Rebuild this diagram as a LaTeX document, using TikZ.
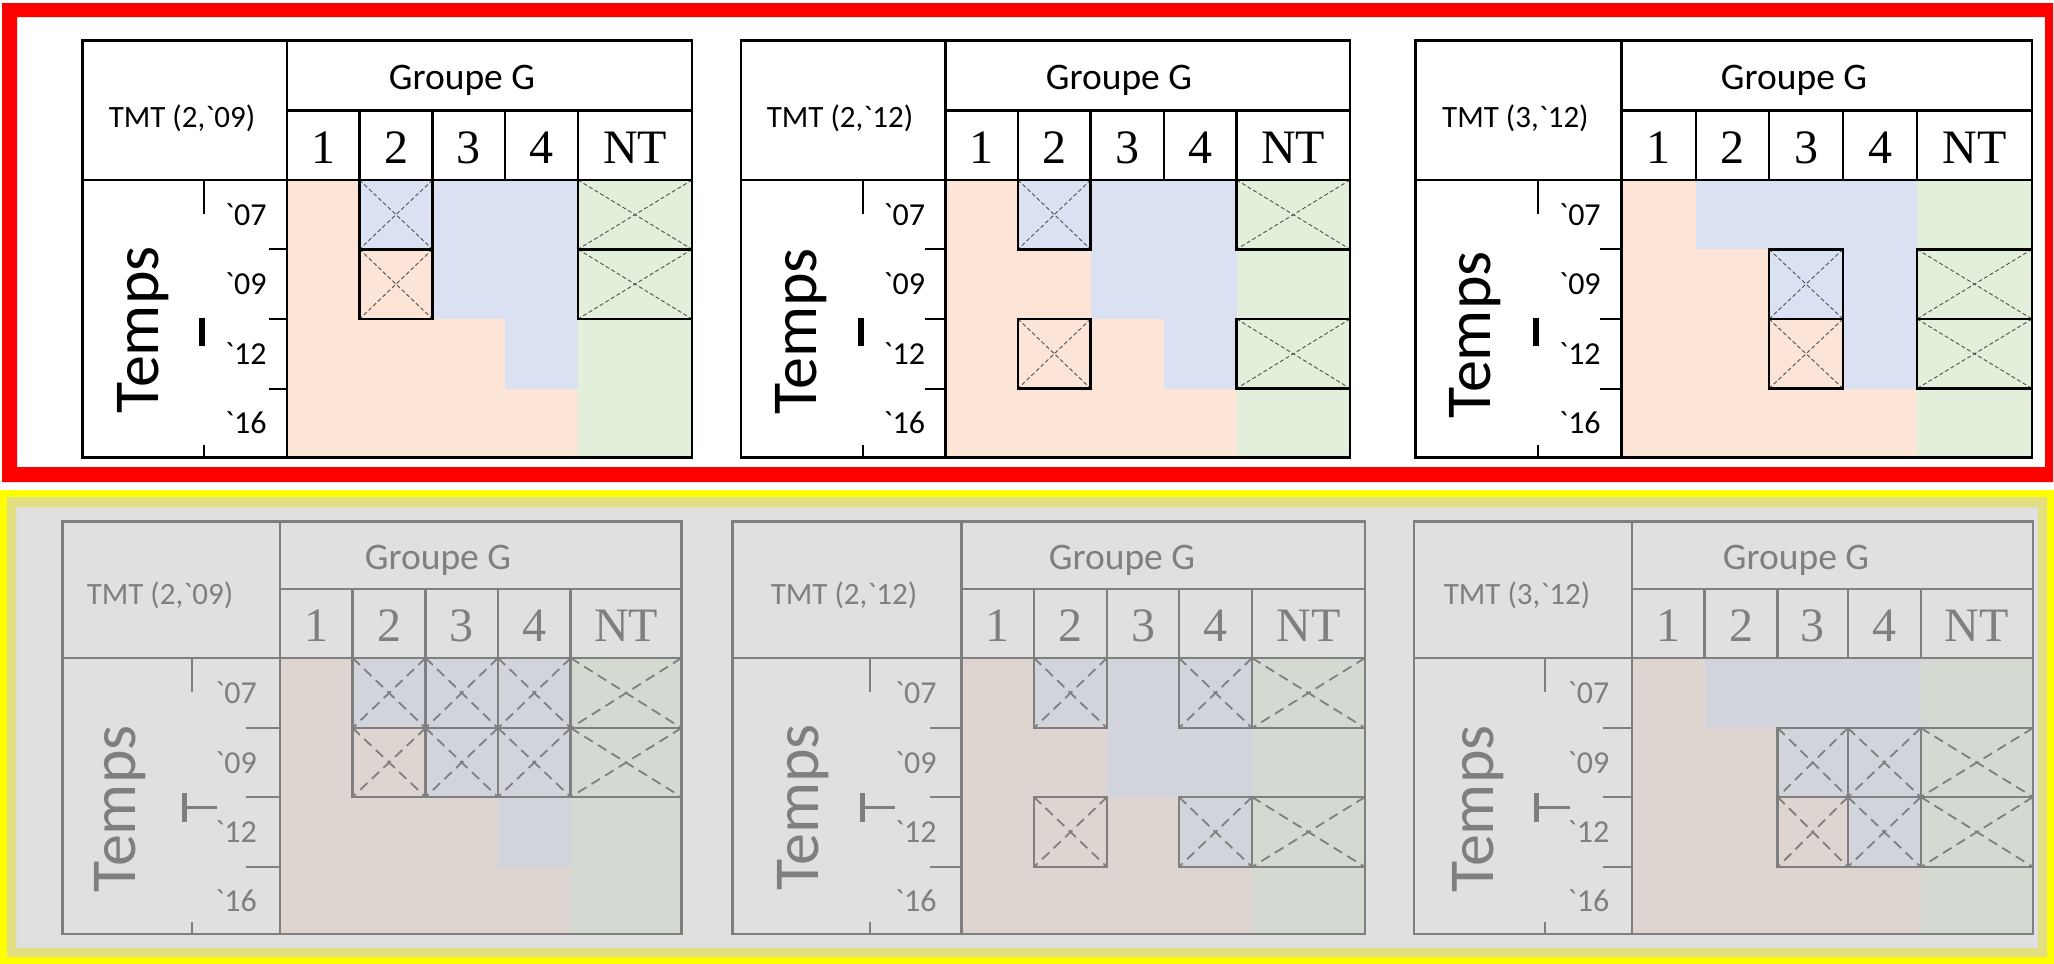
\documentclass[tikz,border=0pt]{standalone}
\usepackage{fontspec}
\setmainfont{Carlito}[Ligatures=TeXOff]
\newfontfamily\numfont{Liberation Serif}
\usetikzlibrary{calc}
\definecolor{sal}{HTML}{FCE4D6}
\definecolor{blu}{HTML}{DAE1F2}
\definecolor{grn}{HTML}{E2EFDA}
\definecolor{redf}{HTML}{FF0000}
\definecolor{yelb}{HTML}{FFFF00}
\definecolor{yelp}{RGB}{225,223,128}
\definecolor{ovl}{RGB}{205,205,205}
\definecolor{diagc}{RGB}{80,80,80}
\tikzset{
  grid line/.style={line width=2.5pt, black},
  axis line/.style={line width=2pt, black},
  xdiag/.style={line width=0.9pt, diagc, dash pattern=on 4pt off 2.5pt},
  xdiagB/.style={line width=1.8pt, black, dash pattern=on 10pt off 6pt},
  xborder/.style={line width=2.5pt, black},
  tbar/.style={line width=6pt, black},
  tstem/.style={line width=3pt, black},
  tmtlab/.style={font=\fontsize{31}{31}\selectfont, anchor=base, inner sep=0pt},
  grplab/.style={font=\fontsize{37.5}{37.5}\selectfont, anchor=base, inner sep=0pt},
  numlab/.style={font=\numfont\fontsize{48}{48}\selectfont, anchor=base, inner sep=0pt},
  rowlab/.style={font=\fontsize{32}{32}\selectfont, inner sep=0pt},
  tempslab/.style={font=\fontsize{64}{64}\selectfont, rotate=90, inner sep=0pt},
}
% #1 name, #2 TMT text
\newcommand\mktable[2]{%
  \coordinate (#1-nw) at (\qL,\yT);
  \coordinate (#1-se) at (\qR,\yB);
  \coordinate (#1-x0) at (\qA,\yT);
  \coordinate (#1-x1) at (\qB,\yT);
  \coordinate (#1-x2) at (\qC,\yT);
  \coordinate (#1-x3) at (\qD,\yT);
  \coordinate (#1-x4) at (\qE,\yT);
  \coordinate (#1-x5) at (\qR,\yT);
  \coordinate (#1-ax) at (\qAx,\yT);
  \coordinate (#1-tk) at (\qTk,\yT);
  \coordinate (#1-yT) at (\qL,\yT);
  \coordinate (#1-yG) at (\qL,\yG);
  \coordinate (#1-y0) at (\qL,\yH);
  \coordinate (#1-y1) at (\qL,\yI);
  \coordinate (#1-y2) at (\qL,\yJ);
  \coordinate (#1-y3) at (\qL,\yK);
  \coordinate (#1-y4) at (\qL,\yB);
  % fills
  \fill[sal] (#1-x0 |- #1-y0) rectangle (#1-x4 |- #1-y4);
  \fill[blu] (#1-x1 |- #1-y0) rectangle (#1-x2 |- #1-y1);
  \fill[blu] (#1-x2 |- #1-y0) rectangle (#1-x3 |- #1-y2);
  \fill[blu] (#1-x3 |- #1-y0) rectangle (#1-x4 |- #1-y3);
  \fill[grn] (#1-x4 |- #1-y0) rectangle (#1-x5 |- #1-y4);
  % lines
  \draw[grid line] (#1-nw) rectangle (#1-se);
  \draw[grid line] (#1-x0 |- #1-yT) -- (#1-x0 |- #1-y4);
  \draw[grid line] (#1-x0 |- #1-yG) -- (#1-x5 |- #1-yG);
  \draw[grid line] (#1-nw |- #1-y0) -- (#1-x5 |- #1-y0);
  \foreach \k in {1,...,4}{\draw[grid line] (#1-x\k |- #1-yG) -- (#1-x\k |- #1-y0);}
  \draw[axis line] (#1-ax |- #1-y0) -- ++(0,34);
  \draw[axis line] (#1-ax |- #1-y4) -- ++(0,-12.5);
  \foreach \k in {1,2,3}{\draw[axis line] (#1-tk |- #1-y\k) -- (#1-x0 |- #1-y\k);}
  % texts
  \node[tmtlab] (#1-tmt) at (\qTmt,\yTmt) {#2};
  \node[grplab] (#1-grp) at (\qGrp,\yGrp) {Groupe G};
  \node[numlab] (#1-h1) at ({(\qA+\qB)/2},{\yH-17}) {1};
  \node[numlab] (#1-h2) at ({(\qB+\qC)/2},{\yH-17}) {2};
  \node[numlab] (#1-h3) at ({(\qC+\qD)/2},{\yH-17}) {3};
  \node[numlab] (#1-h4) at ({(\qD+\qE)/2},{\yH-17}) {4};
  \node[numlab] (#1-h5) at ({(\qE+\qR)/2},{\yH-17}) {NT};
  \node[rowlab] (#1-r1) at ({(\qAx+\qA)/2},{(\yH+\yI)/2}) {`07};
  \node[rowlab] (#1-r2) at ({(\qAx+\qA)/2},{(\yI+\yJ)/2}) {`09};
  \node[rowlab] (#1-r3) at ({(\qAx+\qA)/2},{(\yJ+\yK)/2}) {`12};
  \node[rowlab] (#1-r4) at ({(\qAx+\qA)/2},{(\yK+\yB)/2}) {`16};
  \node[tempslab] (#1-temps) at (\qTx,\qTy) {Temps};
}
% #1 name, #2 col, #3 row, #4 diag style
\newcommand\xcell[4]{%
  \pgfmathtruncatemacro\qk{#2+1}%
  \pgfmathtruncatemacro\qr{#3+1}%
  \draw[#4] (#1-x#2 |- #1-y#3) -- (#1-x\qk |- #1-y\qr) (#1-x\qk |- #1-y#3) -- (#1-x#2 |- #1-y\qr);
  \draw[xborder] (#1-x#2 |- #1-y#3) rectangle (#1-x\qk |- #1-y\qr);
}
\begin{document}
\begin{tikzpicture}[x=1pt,y=-1pt]
\useasboundingbox (0,0) rectangle (2054,964);
\fill[white] (0,0) rectangle (2054,964);
% ---------------- top panel
\def\yT{40.5}\def\yG{110.5}\def\yH{180}\def\yI{249.3}\def\yJ{319}\def\yK{388.5}\def\yB{457.5}
\def\yTmt{127}\def\yGrp{89}
\def\qL{82.6}\def\qA{287}\def\qB{359.5}\def\qC{432.5}\def\qD{505}\def\qE{578}\def\qR{692}
\def\qAx{204.3}\def\qTk{268.6}\def\qGrp{462}\def\qTmt{182}\def\qTx{143.4}\def\qTy{330}
\mktable{t1}{TMT (2,`09)}
\def\qL{741}\def\qA{945.5}\def\qB{1018}\def\qC{1090.6}\def\qD{1164}\def\qE{1236.6}\def\qR{1350}
\def\qAx{863}\def\qTk{925.4}\def\qGrp{1119}\def\qTmt{840}\def\qTx{801.5}\def\qTy{331.5}
\mktable{t2}{TMT (2,`12)}
\def\qL{1415.5}\def\qA{1621.6}\def\qB{1696}\def\qC{1769}\def\qD{1843}\def\qE{1917}\def\qR{2032}
\def\qAx{1538}\def\qTk{1600}\def\qGrp{1794}\def\qTmt{1515.4}\def\qTx{1475.5}\def\qTy{335}
\mktable{t3}{TMT (3,`12)}
\xcell{t1}{1}{0}{xdiag}\xcell{t1}{1}{1}{xdiag}\xcell{t1}{4}{0}{xdiag}\xcell{t1}{4}{1}{xdiag}
\xcell{t2}{1}{0}{xdiag}\xcell{t2}{1}{2}{xdiag}\xcell{t2}{4}{0}{xdiag}\xcell{t2}{4}{2}{xdiag}
\xcell{t3}{2}{1}{xdiag}\xcell{t3}{2}{2}{xdiag}\xcell{t3}{4}{1}{xdiag}\xcell{t3}{4}{2}{xdiag}
\foreach \t in {t1,t2,t3}{\draw[tbar] ($(\t-ax |- \t-y2)+(-2,-1)$) -- ++(0,28);}
% ---------------- bottom panel
\def\yT{521.7}\def\yG{589}\def\yH{658}\def\yI{728}\def\yJ{797}\def\yK{867}\def\yB{934}
\def\yTmt{604}\def\yGrp{569.3}
\def\qL{62.5}\def\qA{280}\def\qB{352.6}\def\qC{425.6}\def\qD{498}\def\qE{570.7}\def\qR{681.5}
\def\qAx{192}\def\qTk{245.6}\def\qGrp{438}\def\qTmt{160}\def\qTx{120.5}\def\qTy{809}
\mktable{b4}{TMT (2,`09)}
\def\qL{732.5}\def\qA{961.5}\def\qB{1034}\def\qC{1107}\def\qD{1179}\def\qE{1252}\def\qR{1365}
\def\qAx{870}\def\qTk{930}\def\qGrp{1122}\def\qTmt{844}\def\qTx{802.7}\def\qTy{807.5}
\mktable{b5}{TMT (2,`12)}
\def\qL{1414}\def\qA{1632}\def\qB{1704.6}\def\qC{1777.7}\def\qD{1847.8}\def\qE{1920.8}\def\qR{2033}
\def\qAx{1544.7}\def\qTk{1602.7}\def\qGrp{1796}\def\qTmt{1517}\def\qTx{1477.7}\def\qTy{809}
\mktable{b6}{TMT (3,`12)}
\foreach \c in {1,2,3,4}{\foreach \r in {0,1}{\xcell{b4}{\c}{\r}{xdiagB}}}
\foreach \c in {1,3,4}{\foreach \r in {0,2}{\xcell{b5}{\c}{\r}{xdiagB}}}
\foreach \c in {2,3,4}{\foreach \r in {1,2}{\xcell{b6}{\c}{\r}{xdiagB}}}
\foreach \t in {b4,b5,b6}{%
  \draw[tbar, line width=5pt] ($(\t-ax |- \t-y2)+(-8,-4)$) -- ++(0,29);
  \draw[tstem] ($(\t-ax |- \t-y2)+(-8,10.5)$) -- ++(33,0);
}
% grey veil over the lower panel
\fill[ovl, opacity=0.62] (16,507) rectangle (2038,948);
% ---------------- frames
\fill[redf, even odd rule] (2,3) rectangle (2053,482) (17,17) rectangle (2045,467);
\fill[yelb, even odd rule] (0,490) rectangle (2054,964) (7,497) rectangle (2047,957);
\fill[yelp, even odd rule] (7,497) rectangle (2047,957) (16,507) rectangle (2038,948);
\end{tikzpicture}
\end{document}
